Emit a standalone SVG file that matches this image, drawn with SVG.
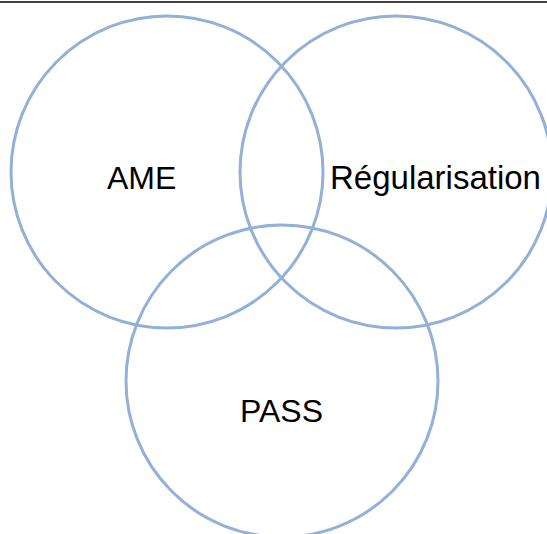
<svg xmlns="http://www.w3.org/2000/svg" width="547" height="534" viewBox="0 0 547 534">
<style>
.c{fill:none;stroke:#93B0D8;stroke-width:3}
.t{font-family:"Liberation Sans",Arial,sans-serif;font-size:32px;fill:#000}
</style>
<rect width="547" height="534" fill="#fff"/>
<line x1="0" y1="2" x2="547" y2="2" stroke="#000" stroke-width="1.5"/>
<g id="ame"><circle class="c" cx="167" cy="172" r="156"/><text class="t" x="107" y="189">AME</text></g>
<g id="regularisation"><circle class="c" cx="396" cy="172" r="156"/><text class="t" x="330" y="189" style="font-size:33px">Régularisation</text></g>
<g id="pass"><circle class="c" cx="282" cy="381" r="156"/><text class="t" x="240" y="422">PASS</text></g>
<g id="connectors"/>
</svg>
